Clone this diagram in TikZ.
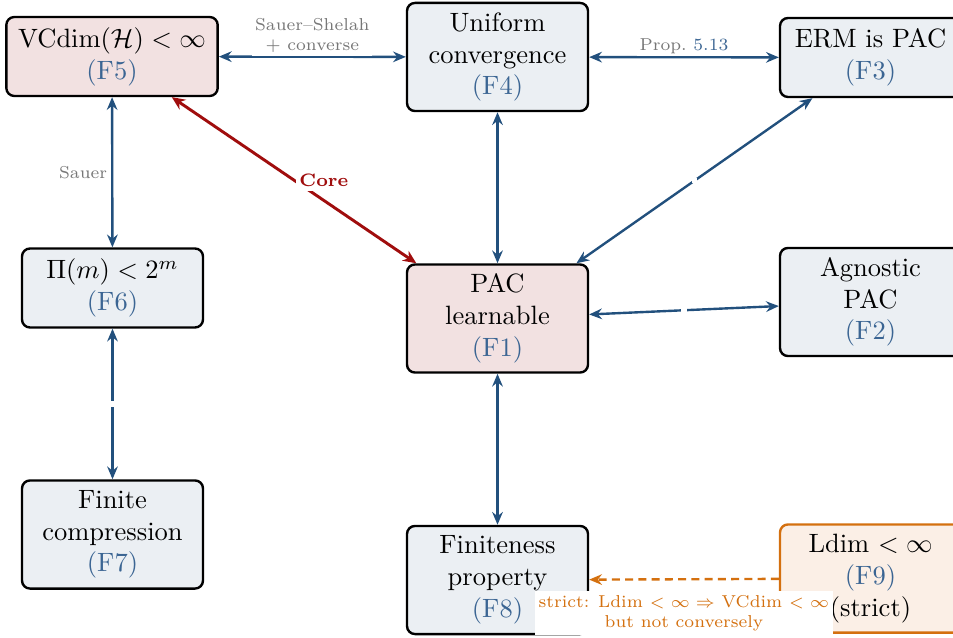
\documentclass[tikz,border=0pt]{standalone}
\usetikzlibrary{arrows.meta}

\definecolor{pinkfill}{HTML}{F2E1E1}
\definecolor{greyfill}{HTML}{EBEFF3}
\definecolor{orangefill}{HTML}{FBEFE6}
\definecolor{orangeline}{HTML}{D4700F}
\definecolor{reflabel}{HTML}{3B6593}
\definecolor{linkblue}{HTML}{22507D}
\definecolor{corered}{HTML}{A00D0D}
\definecolor{notegrey}{HTML}{777777}

\newcommand{\fref}[1]{\textcolor{reflabel}{(#1)}}
\newcommand{\notesize}{\fontsize{6.5}{7.6}\selectfont}

\tikzset{
  fact/.style={draw=black, line width=0.9pt, rounded corners=3pt, align=center,
    fill=greyfill, minimum width=68.3pt, inner xsep=4.5pt, inner ysep=2.5pt, font=\normalsize},
  keyfact/.style={fact, fill=pinkfill},
  strictfact/.style={fact, fill=orangefill, draw=orangeline},
  twoline/.style={minimum height=29.8pt},
  threeline/.style={minimum height=40.8pt},
  equiv/.style={draw=linkblue, line width=0.9pt, {Stealth[length=4.8pt,width=4pt]}-{Stealth[length=4.8pt,width=4pt]}},
  coreedge/.style={draw=corered, line width=1.1pt, {Stealth[length=5pt,width=4.4pt]}-{Stealth[length=5pt,width=4.4pt]}},
  strictedge/.style={draw=orangeline, line width=0.9pt, dash pattern=on 3pt off 2pt, -{Stealth[length=4.8pt,width=4pt]}},
  note/.style={font=\notesize, text=notegrey, fill=white, inner sep=1.5pt, align=center},
  gap/.style={fill=white, inner sep=1pt},
}

\begin{document}
\begin{tikzpicture}[x=0.3774pt, y=-0.3774pt]
  \useasboundingbox (0,0) rectangle (953,637);

  % fact boxes
  \node[keyfact, twoline]    (F5) at (112,56.5)   {$\mathrm{VCdim}(\mathcal{H}) < \infty$\\\fref{F5}};
  \node[fact, threeline]     (F4) at (497.5,57)   {Uniform\\convergence\\\fref{F4}};
  \node[fact, twoline]       (F3) at (870.5,57.5) {ERM is PAC\\\fref{F3}};
  \node[fact, twoline]       (F6) at (112.5,288)  {$\Pi(m) < 2^m$\\\fref{F6}};
  \node[keyfact, threeline]  (F1) at (497.5,318.5){PAC\\learnable\\\fref{F1}};
  \node[fact, threeline]     (F2) at (870.5,302)  {Agnostic\\PAC\\\fref{F2}};
  \node[fact, threeline]     (F7) at (112.5,534.5){Finite\\compression\\\fref{F7}};
  \node[fact, threeline]     (F8) at (497.5,580)  {Finiteness\\property\\\fref{F8}};
  \node[strictfact, threeline] (F9) at (870.5,578.5){Ldim $<\infty$\\\fref{F9}\\(strict)};

  % equivalences
  \draw[equiv] (F5) -- node[note, above, inner sep=1pt] {Sauer--Shelah\\+ converse} (F4);
  \draw[equiv] (F4) -- node[note, above, inner sep=1pt] {Prop.\ \textcolor{reflabel}{5.13}} (F3);
  \draw[equiv] (F5) -- node[note, left] {Sauer} (F6);
  \draw[coreedge] (F5) -- node[right, fill=white, inner sep=1.5pt, text=corered,
    font=\fontsize{6.8}{8}\selectfont\bfseries] {Core} (F1);
  \draw[equiv] (F4) -- (F1);
  \draw[equiv] (F3) -- node[gap] {} (F1);
  \draw[equiv] (F2) -- node[gap] {} (F1);
  \draw[equiv] (F6) -- node[gap] {} (F7);
  \draw[equiv] (F1) -- (F8);

  % strict implication
  \draw[strictedge] (F9) -- node[below=4pt, fill=white, inner sep=1.5pt, align=center,
    text=orangeline, font=\notesize]
    {strict: Ldim $<\infty \Rightarrow$ VCdim $<\infty$\\but not conversely} (F8);
\end{tikzpicture}
\end{document}
